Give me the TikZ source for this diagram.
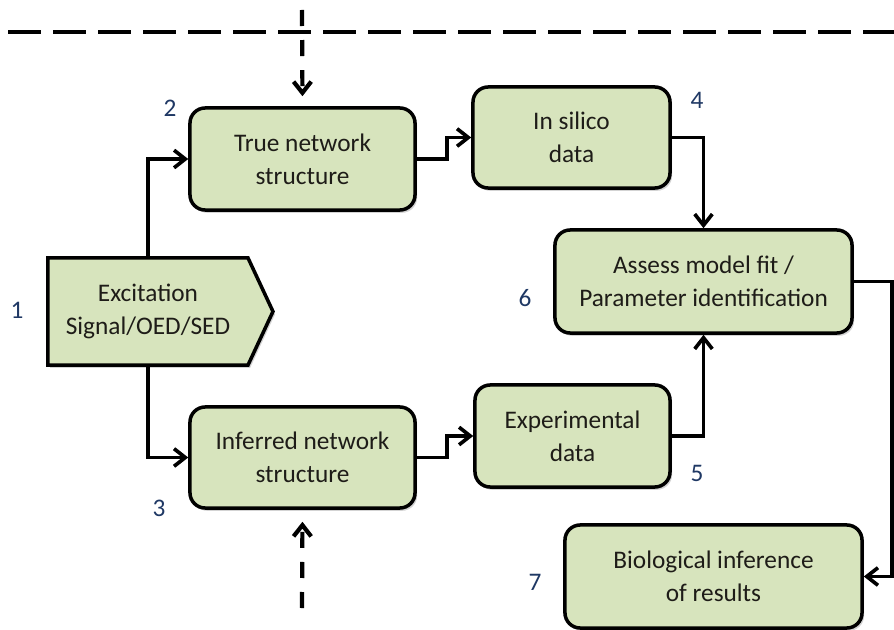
\documentclass[tikz,border=0pt]{standalone}
\usepackage{fontspec}
\setmainfont{Carlito}
\usetikzlibrary{arrows.meta,shapes.symbols,shadows}

\definecolor{boxgreen}{RGB}{215,228,189}
\definecolor{numblue}{RGB}{31,56,100}
\definecolor{boxtext}{RGB}{30,28,24}

\begin{document}
\begin{tikzpicture}[x=0.025cm,y=-0.025cm,>={Straight Barb[length=2.8mm,width=4.4mm]},
	box/.style={draw=black,line width=2.5pt,rounded corners=0.38cm,fill=boxgreen,text=boxtext,align=center,
		font=\fontsize{18}{23.5}\selectfont,drop shadow={shadow xshift=1.5pt,shadow yshift=-2pt,opacity=0.35}},
	conn/.style={line width=2.6pt,->},
	dashconn/.style={line width=3pt,dash pattern=on 0.4cm off 0.35cm,->},
	num/.style={text=numblue,font=\fontsize{18}{23.5}\selectfont}]
	
	\useasboundingbox (0,0) rectangle (894,630);
	
	% Dashed border on top
	\coordinate (hl) at (8,32);
	\coordinate (hr) at (894,32);
	\draw[line width=3.5pt,dash pattern=on 0.825cm off 0.3cm] (hl) -- (hr);
	
	% Excitation signal
	\node[box,rounded corners=0pt,signal,signal to=east,signal from=nowhere,signal pointer angle=130,
		text width=4.4cm,inner xsep=0.3cm,minimum height=2.675cm] (exc) at (148,311.5) {Excitation\\Signal/OED/SED};
	
	% Boxes
	\node[box,minimum width=5.625cm,minimum height=2.55cm] (true) at (302.5,159) {True network\\structure};
	\node[box,minimum width=5.625cm,minimum height=2.525cm] (inferred) at (302.5,457.5) {Inferred network\\structure};
	\node[box,minimum width=4.925cm,minimum height=2.525cm] (silico) at (571.5,137.5) {In silico\\data};
	\node[box,minimum width=4.875cm,minimum height=2.55cm] (expt) at (572.5,436) {Experimental\\data};
	\node[box,minimum width=7.425cm,minimum height=2.575cm] (assess) at (703.5,281.5) {Assess model fit /\\Parameter identification};
	\node[box,minimum width=7.425cm,minimum height=2.575cm] (bio) at (713.5,576.5) {Biological inference\\of results};
	
	% Numbers
	\node[num] (n1) at (17,310) {1};
	\node[num] (n2) at (170,108) {2};
	\node[num] (n3) at (159,508) {3};
	\node[num] (n4) at (697,100) {4};
	\node[num] (n5) at (697,473) {5};
	\node[num] (n6) at (525,298) {6};
	\node[num] (n7) at (535,582) {7};
	
	% Connectors
	\draw[conn] (exc.north) |- (true.west);
	\draw[conn] (exc.south) |- (inferred.west);
	\draw[conn] (true.east) -- ++(30,0) |- (silico.west);
	\draw[conn] (inferred.east) -- ++(30,0) |- (expt.west);
	\draw[conn] (silico.east) -| (assess.north);
	\draw[conn] (expt.east) -| (assess.south);
	\draw[conn] (assess.east) -- ++(38,0) |- (bio.east);
	
	% Dashed inputs
	\coordinate (topin) at (302,10);
	\coordinate (botin) at (302,608);
	\draw[dashconn,shorten >=0.25cm] (topin) -- (true.north);
	\draw[dashconn,shorten >=0.3cm] (botin) -- (inferred.south);
	
\end{tikzpicture}
\end{document}
